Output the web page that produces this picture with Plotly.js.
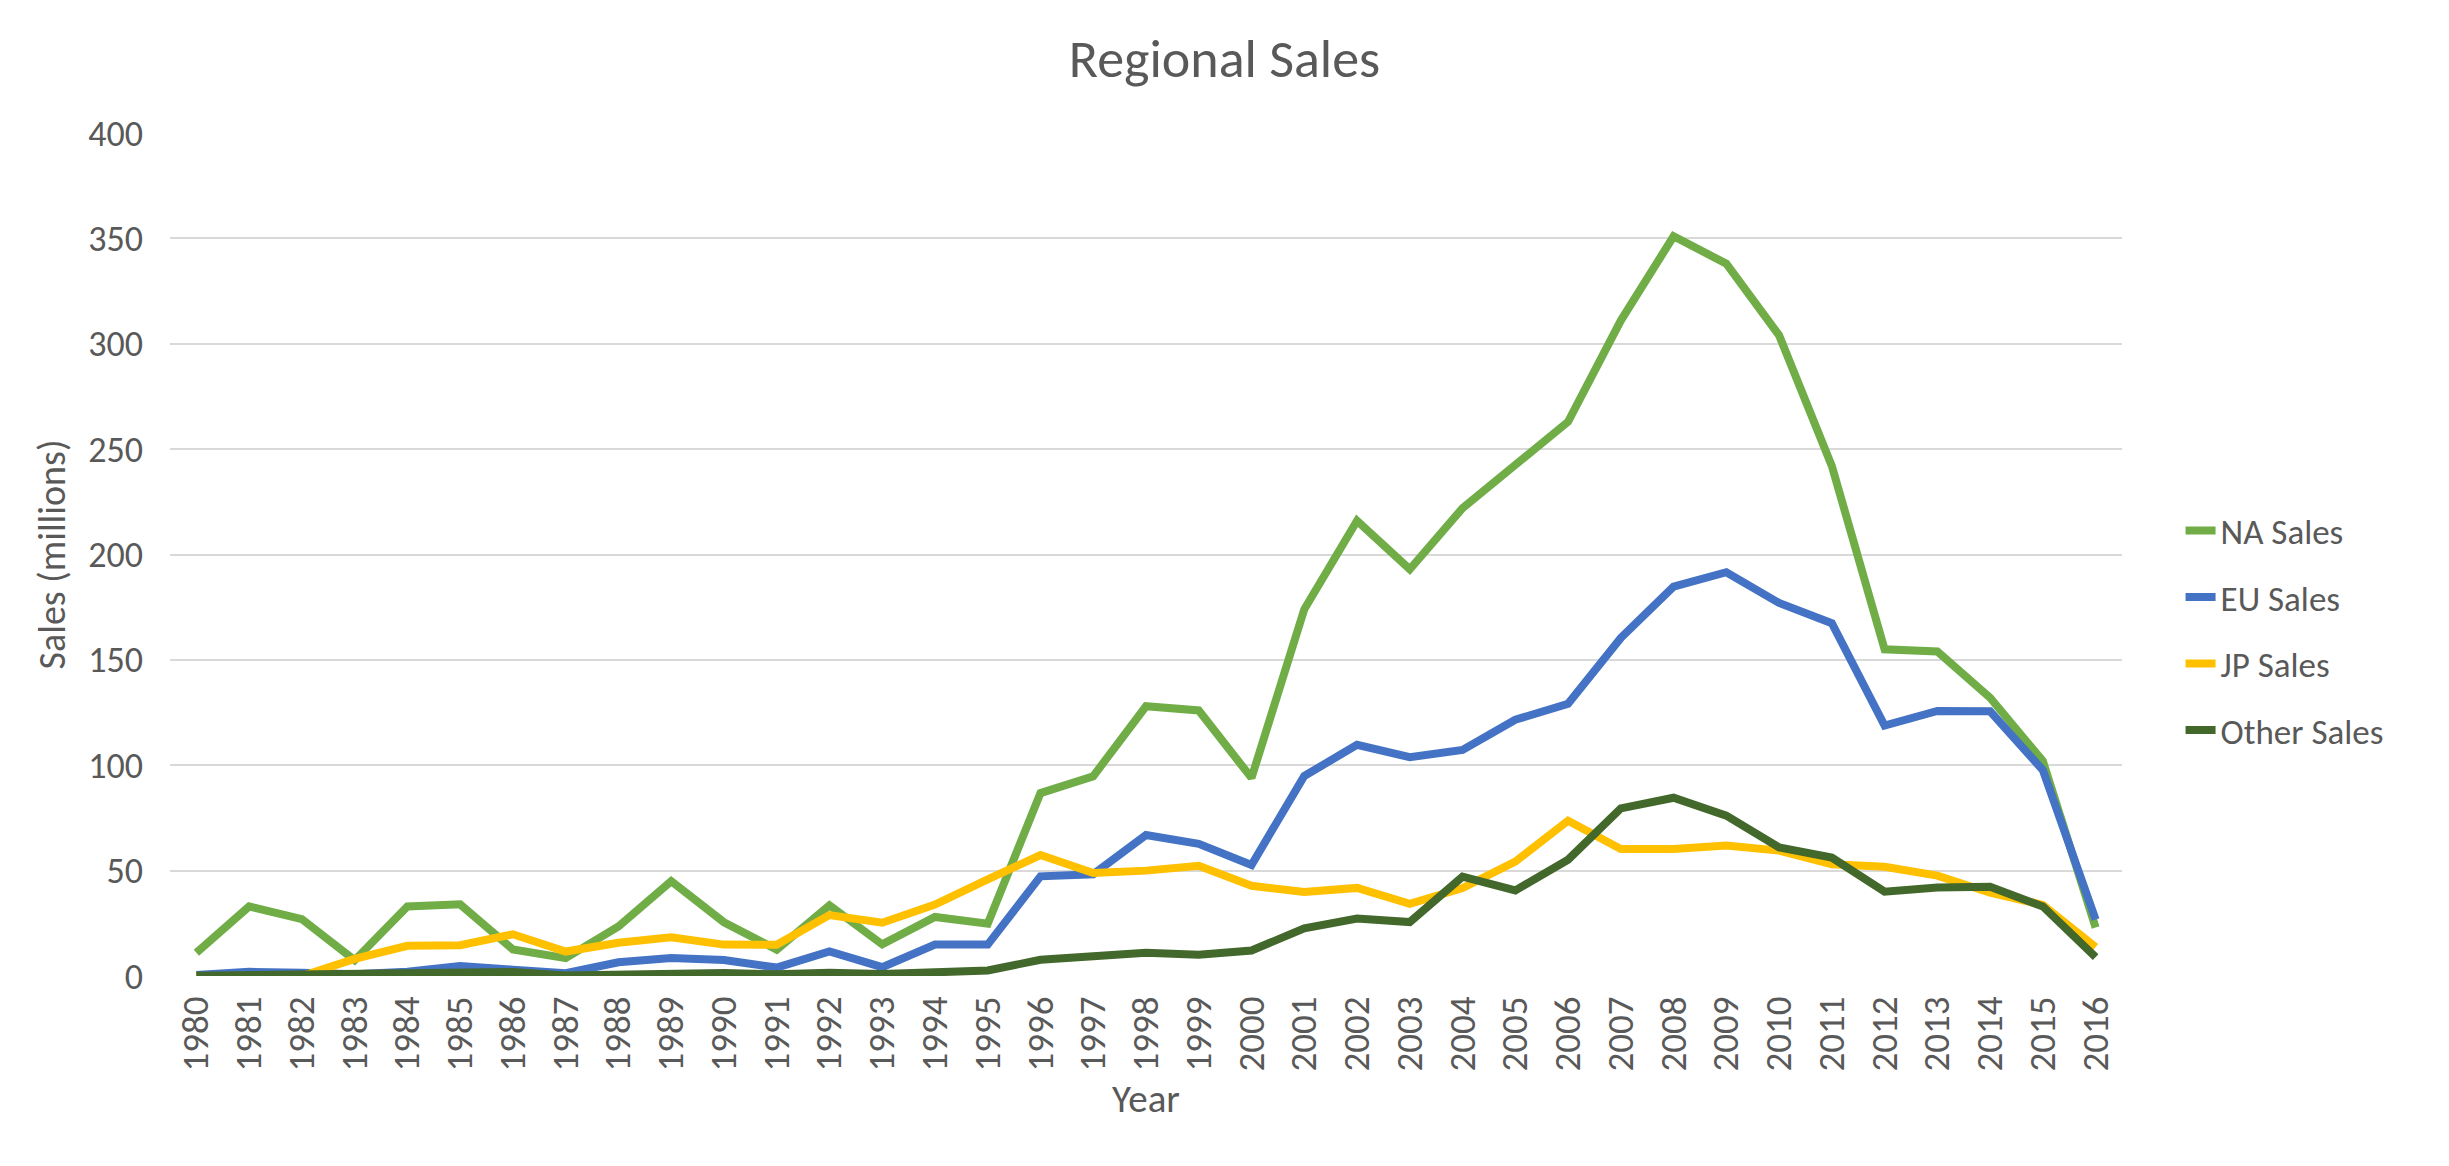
<!DOCTYPE html>
<html>
<head>
<meta charset="utf-8">
<script src="https://cdn.plot.ly/plotly-3.0.1.min.js"></script>
<style>
  html, body { margin: 0; padding: 0; background: #fff; }
  #chart { width: 2449px; height: 1166px; }
</style>
</head>
<body>
<div id="chart"></div>
<script>
// years on the category axis
var years = ['1980','1981','1982','1983','1984','1985','1986','1987','1988','1989',
             '1990','1991','1992','1993','1994','1995','1996','1997','1998','1999',
             '2000','2001','2002','2003','2004','2005','2006','2007','2008','2009',
             '2010','2011','2012','2013','2014','2015','2016'];

// sales in millions
var naSales = [11, 33, 27, 7.5, 33, 34, 12.6, 8.5, 23.5, 45,
               25.5, 12.5, 33.5, 15, 28, 24.8, 86.8, 94.8, 128, 126,
               94, 174, 216, 193, 222, 243, 263, 311, 351, 338,
               304, 242, 155, 154, 132, 102, 23];
var euSales = [0.5, 2, 1.5, 0.8, 2, 4.7, 3, 1.3, 6.5, 8.5,
               7.6, 4, 11.7, 4.2, 14.9, 14.9, 47.3, 48.3, 66.9, 62.7,
               52.7, 94.9, 109.7, 103.8, 107.3, 121.6, 129.2, 160.4, 184.8, 191.6,
               177, 167.4, 118.8, 125.8, 125.6, 97.7, 26.8];
var jpSales = [0, 0, 0, 8.1, 14.3, 14.6, 19.8, 11.6, 15.8, 18.4,
               14.9, 14.8, 28.9, 25.3, 33.9, 45.8, 57.4, 48.9, 50, 52.3,
               42.8, 39.9, 41.8, 34.2, 41.7, 54.3, 73.7, 60.3, 60.3, 61.9,
               59.5, 53, 51.8, 47.6, 39.5, 33.7, 13.7];
var otherSales = [0.1, 0.3, 0.9, 0.4, 0.7, 0.9, 1.9, 0.2, 0.9, 1.4,
                  1.4, 0.8, 1.6, 0.9, 2.0, 2.6, 7.7, 9.1, 11.0, 10.1,
                  12.1, 22.6, 27.3, 25.6, 47.1, 40.6, 55.2, 79.5, 84.6, 76.1,
                  61, 56.2, 40, 42, 42.3, 33, 9];

var seriesNames = ['NA Sales', 'EU Sales', 'JP Sales', 'Other Sales'];
var seriesColors = ['#70AD47', '#4472C4', '#FFC000', '#43682B'];
var seriesValues = [naSales, euSales, jpSales, otherSales];

var textColor = '#595959';
var fontFamily = 'Carlito, "Open Sans", sans-serif';

var data = [];
seriesValues.forEach(function(vals, indx){
	data.push({
		x: years,
		y: vals,
		name: seriesNames[indx],
		legendgroup: 'g' + indx,
		type: 'scatter',
		mode: 'lines',
		line: {color: seriesColors[indx], width: 8}
	});
});

var layout = {
	width: 2449,
	height: 1166,
	paper_bgcolor: '#ffffff',
	plot_bgcolor: '#ffffff',
	margin: {l: 170, r: 327, t: 133, b: 190},
	font: {family: fontFamily, color: textColor, size: 36},
	title: {
		text: 'Regional Sales',
		font: {size: 54, color: textColor},
		x: 0.5, xref: 'container', xanchor: 'center',
		y: 0.95, yref: 'container', yanchor: 'middle'
	},
	xaxis: {
		type: 'category',
		range: [-0.5, 36.5],
		tickangle: -90,
		showgrid: false,
		showline: false,
		zeroline: false,
		ticks: '',
		ticklabelstandoff: 12,
		tickfont: {size: 37, color: textColor},
		title: {text: 'Year', font: {size: 39, color: textColor}, standoff: 14}
	},
	yaxis: {
		range: [0, 400],
		dtick: 50,
		showgrid: true,
		gridcolor: '#D9D9D9',
		gridwidth: 2,
		zeroline: false,
		showline: false,
		ticks: '',
		ticklabelstandoff: 26,
		tickfont: {size: 36, color: textColor},
		title: {text: 'Sales (millions)', font: {size: 38, color: textColor}, standoff: 10}
	},
	legend: {
		x: 1.03, xanchor: 'left',
		y: 0.41, yanchor: 'middle',
		traceorder: 'grouped',
		tracegroupgap: 18,
		font: {size: 35, color: textColor},
		bgcolor: 'rgba(0,0,0,0)'
	},
	showlegend: true
};

Plotly.newPlot('chart', data, layout, {displayModeBar: false, staticPlot: true});
</script>
</body>
</html>
